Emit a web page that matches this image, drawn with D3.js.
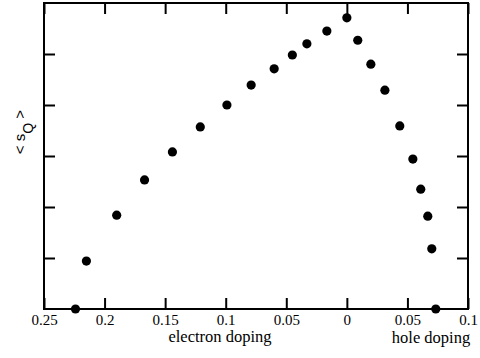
<!DOCTYPE html>
<html>
<head>
<meta charset="utf-8">
<script src="https://cdn.jsdelivr.net/npm/d3@7"></script>
<style>
  body { margin: 0; background: #fff; }
  svg { display: block; }
</style>
</head>
<body>
<div id="chart"></div>
<script>
// doping values: electron side is plotted to the left of zero (negative)
var electronDoping = [-0.224, -0.215, -0.19, -0.167, -0.144, -0.121, -0.099, -0.079, -0.06, -0.045, -0.033, -0.0165, 0];
var electronSQ = [0.0, 0.94, 1.84, 2.53, 3.08, 3.57, 4.0, 4.39, 4.71, 4.98, 5.2, 5.45, 5.71];
var holeDoping = [0.009, 0.0198, 0.0314, 0.0437, 0.0545, 0.061, 0.0668, 0.0701, 0.0734];
var holeSQ = [5.27, 4.8, 4.29, 3.59, 2.94, 2.35, 1.82, 1.18, 0.0];

var xTicks = [-0.25, -0.2, -0.15, -0.1, -0.05, 0, 0.05, 0.1];
var xTickLabels = ['0.25', '0.2', '0.15', '0.1', '0.05', '0', '0.05', '0.1'];
var yTicks = [1, 2, 3, 4, 5];

var outerWidth = 480;
var outerHeight = 358;
var plotLeft = 44, plotRight = 468, plotTop = 3, plotBottom = 309;
var serif = "'Liberation Serif', 'Times New Roman', serif";

var svg = d3.select('#chart').append('svg')
  .attr('width', outerWidth)
  .attr('height', outerHeight);

var x = d3.scaleLinear().domain([-0.25, 0.1]).range([plotLeft, plotRight]);
var y = d3.scaleLinear().domain([0, 6]).range([plotBottom, plotTop]);

// frame
svg.append('rect')
  .attr('x', plotLeft)
  .attr('y', plotTop)
  .attr('width', plotRight - plotLeft)
  .attr('height', plotBottom - plotTop)
  .attr('fill', 'none')
  .attr('stroke', '#000')
  .attr('stroke-width', 2);

// bottom axis, ticks pointing inward
var xAxis = d3.axisBottom(x)
  .tickValues(xTicks)
  .tickSize(-11)
  .tickPadding(5)
  .tickFormat(function (d, i) { return xTickLabels[i]; });

var gx = svg.append('g')
  .attr('transform', 'translate(0,' + plotBottom + ')')
  .call(xAxis);
gx.attr('font-family', serif).attr('font-size', 15);
gx.select('.domain').remove();
gx.selectAll('line').attr('stroke-width', 2);
gx.selectAll('text').attr('fill', '#000').style('font-family', serif);

// top axis
var gxTop = svg.append('g')
  .attr('transform', 'translate(0,' + plotTop + ')')
  .call(d3.axisTop(x).tickValues(xTicks).tickSize(-11).tickFormat(''));
gxTop.select('.domain').remove();
gxTop.selectAll('line').attr('stroke-width', 2);

// left and right axes, no labels
var gyL = svg.append('g')
  .attr('transform', 'translate(' + plotLeft + ',0)')
  .call(d3.axisLeft(y).tickValues(yTicks).tickSize(-11).tickFormat(''));
gyL.select('.domain').remove();
gyL.selectAll('line').attr('stroke-width', 2);

var gyR = svg.append('g')
  .attr('transform', 'translate(' + plotRight + ',0)')
  .call(d3.axisRight(y).tickValues(yTicks).tickSize(-11).tickFormat(''));
gyR.select('.domain').remove();
gyR.selectAll('line').attr('stroke-width', 2);

// axis titles
svg.append('text')
  .attr('x', 220)
  .attr('y', 342)
  .attr('text-anchor', 'middle')
  .style('font-family', serif)
  .attr('font-size', 16.5)
  .text('electron doping');

svg.append('text')
  .attr('x', 431)
  .attr('y', 343)
  .attr('text-anchor', 'middle')
  .style('font-family', serif)
  .attr('font-size', 16.5)
  .text('hole doping');

var ylab = svg.append('text')
  .attr('transform', 'translate(25,132) rotate(-90)')
  .attr('text-anchor', 'middle')
  .style('font-family', "'Liberation Sans', Arial, sans-serif")
  .attr('font-size', 15);
ylab.append('tspan').text('< s');
ylab.append('tspan').attr('dy', 8).attr('font-size', 14).text('Q');
ylab.append('tspan').attr('dy', -8).text(' >');

// points
var electron = electronDoping.map(function (d, i) { return {d: d, s: electronSQ[i]}; });
var hole = holeDoping.map(function (d, i) { return {d: d, s: holeSQ[i]}; });

svg.selectAll('circle.pt')
  .data(electron.concat(hole))
  .enter().append('circle')
  .attr('class', 'pt')
  .attr('cx', function (p) { return x(p.d); })
  .attr('cy', function (p) { return y(p.s); })
  .attr('r', 4.6)
  .attr('fill', '#000');
</script>
</body>
</html>
